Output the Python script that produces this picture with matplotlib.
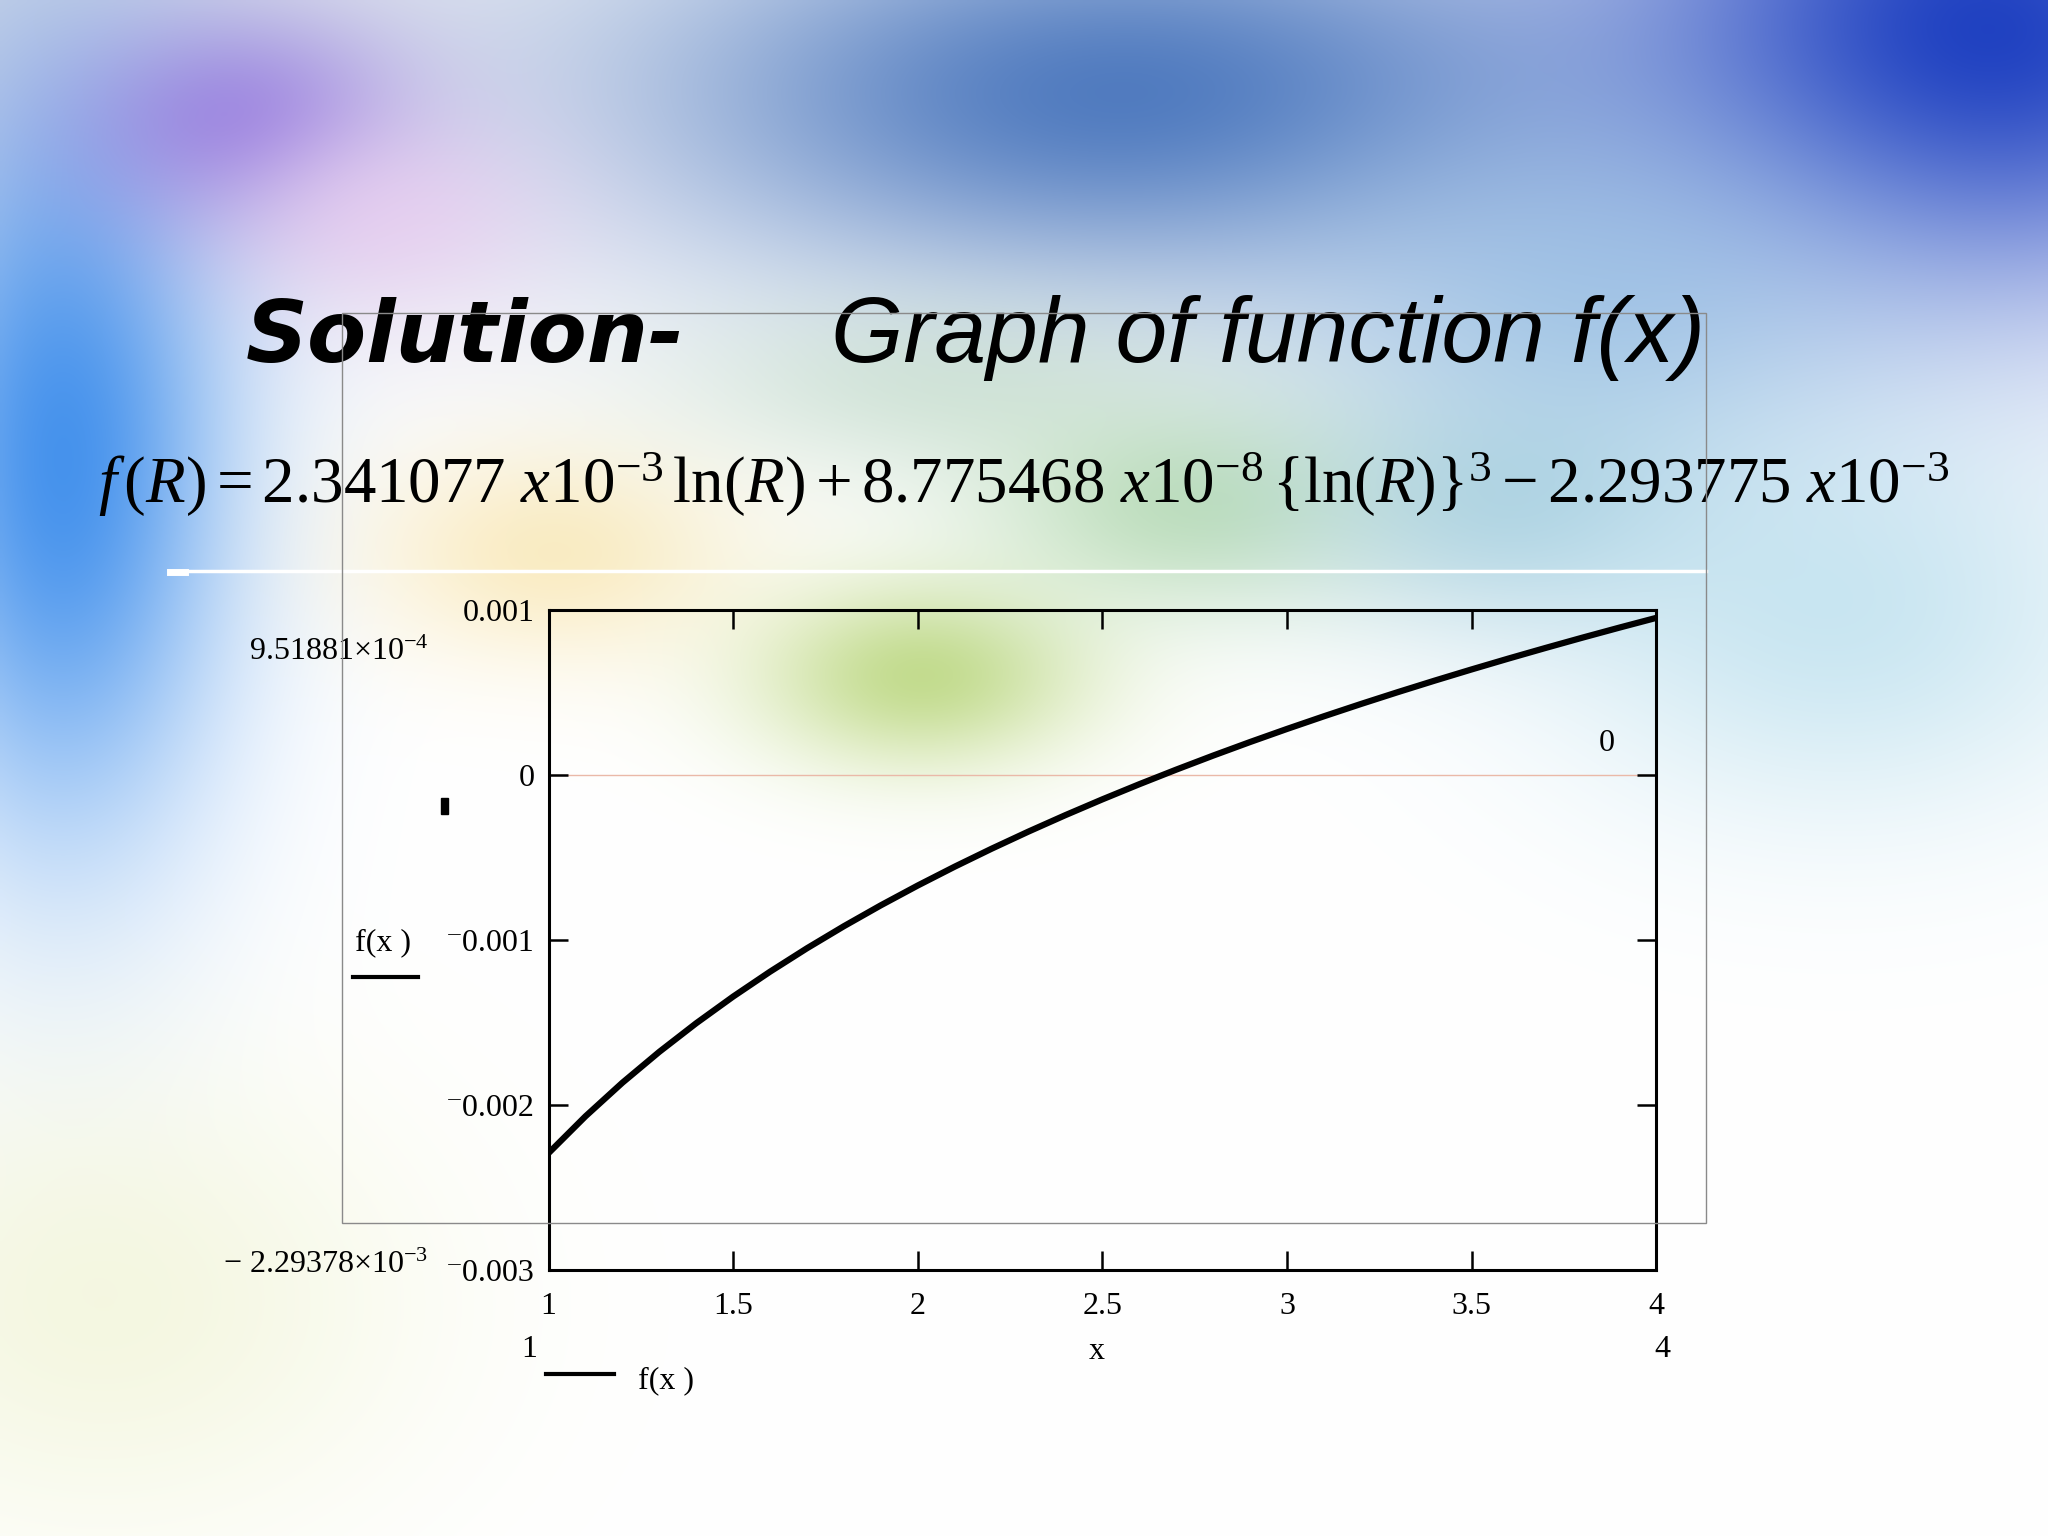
import numpy as np
import matplotlib
matplotlib.use("Agg")
import matplotlib.pyplot as plt
from matplotlib.patches import Rectangle
from matplotlib.lines import Line2D

x_vals = [1.0, 1.1, 1.2, 1.3, 1.4, 1.5, 1.6, 1.7, 1.8, 1.9, 2.0,
          2.1, 2.2, 2.3, 2.4, 2.5, 2.6, 2.7, 2.8, 2.9, 3.0,
          3.1, 3.2, 3.3, 3.4, 3.5, 3.6, 3.7, 3.8, 3.9, 4.0]
f_vals = [-2.2938e-3, -2.0706e-3, -1.8669e-3, -1.6796e-3, -1.5061e-3,
          -1.3445e-3, -1.1935e-3, -1.0515e-3, -0.9177e-3, -0.7911e-3,
          -0.6710e-3, -0.5568e-3, -0.4479e-3, -0.3438e-3, -0.2442e-3,
          -0.1486e-3, -0.0568e-3, 0.0316e-3, 0.1168e-3, 0.1990e-3,
          0.2784e-3, 0.3551e-3, 0.4295e-3, 0.5015e-3, 0.5714e-3,
          0.6393e-3, 0.7053e-3, 0.7694e-3, 0.8319e-3, 0.8927e-3,
          0.9519e-3]

xticks = [1, 1.5, 2, 2.5, 3, 3.5, 4]
xtick_labels = ["1", "1.5", "2", "2.5", "3", "3.5", "4"]
yticks = [0.001, 0, -0.001, -0.002, -0.003]
ytick_labels = ["0.001", "0", "\u207b0.001", "\u207b0.002", "\u207b0.003"]

title_left = "Solution-"
title_right = "Graph of function f(x)"
equation = (r"$f\,(R) = 2.341077\ x10^{-3}\,\ln(R) + 8.775468\ x10^{-8}"
            r"\,\{\ln(R)\}^{3} - 2.293775\ x10^{-3}$")
ymax_label = r"9.51881$\times$10$^{-4}$"
ymin_label = r"$-$ 2.29378$\times$10$^{-3}$"

plt.rcParams['mathtext.fontset'] = 'custom'
plt.rcParams['mathtext.rm'] = 'Liberation Serif'
plt.rcParams['mathtext.it'] = 'Liberation Serif:italic'
plt.rcParams['mathtext.bf'] = 'Liberation Serif:bold'
serif = ['Liberation Serif', 'DejaVu Serif']
fs = 23

W, H = 1568, 1176  # layout measured on the shrunk slide


def fx(x):
    return x / W


def fy(y):
    return 1 - y / H


# slide background, soft colour blobs on white
bw, bh = 512, 384
gx, gy = np.meshgrid(np.linspace(0, 1, bw), np.linspace(0, 1, bh))
img = np.ones((bh, bw, 3))
blobs = [
    (0.0, 0.0, 0.25, 0.2, (205, 210, 225), 0.8),
    (0.55, 0.06, 0.25, 0.13, (50, 100, 180), 0.85),
    (0.97, 0.02, 0.18, 0.17, (20, 55, 190), 0.95),
    (0.78, 0.2, 0.14, 0.12, (140, 185, 225), 0.65),
    (0.03, 0.3, 0.08, 0.24, (50, 135, 235), 0.9),
    (0.12, 0.08, 0.08, 0.07, (140, 110, 220), 0.8),
    (0.19, 0.14, 0.08, 0.07, (235, 205, 240), 0.7),
    (0.27, 0.36, 0.09, 0.07, (248, 228, 170), 0.7),
    (0.45, 0.25, 0.12, 0.06, (185, 215, 190), 0.5),
    (0.45, 0.44, 0.08, 0.06, (170, 205, 95), 0.7),
    (0.58, 0.33, 0.1, 0.07, (145, 200, 140), 0.55),
    (0.74, 0.33, 0.1, 0.08, (145, 195, 215), 0.6),
    (0.9, 0.4, 0.14, 0.13, (175, 218, 235), 0.65),
    (0.05, 0.85, 0.15, 0.15, (238, 242, 205), 0.6),
]
for cx, cy, sx, sy, col, s in blobs:
    w = s * np.exp(-((gx - cx) ** 2 / sx ** 2 + (gy - cy) ** 2 / sy ** 2))
    img = img * (1 - w[..., None]) + np.array(col)[None, None, :] / 255 * w[..., None]

fig = plt.figure(figsize=(20.48, 15.36), dpi=100)
bg = fig.add_axes([0, 0, 1, 1], zorder=-5)
bg.imshow(img, aspect='auto', interpolation='bilinear')
bg.axis('off')

ax = fig.add_axes([fx(420), fy(972), fx(1268) - fx(420), fy(467) - fy(972)])
ax.set_facecolor('none')
ax.axhline(0, color='#eab9a8', lw=1, zorder=0.5)
ax.plot(x_vals, f_vals, color='black', lw=4.5, solid_capstyle='butt')
ax.set_xlim(1, 4)
ax.set_ylim(-0.003, 0.001)
ax.set_xticks(xticks)
ax.set_xticklabels(xtick_labels, family=serif, fontsize=fs)
ax.set_yticks(yticks)
ax.set_yticklabels(ytick_labels, family=serif, fontsize=fs)
ax.tick_params(direction='in', length=14, width=1.8, top=True, right=True,
               pad=10)
ax.tick_params(axis='x', pad=16)
for sp in ax.spines.values():
    sp.set_linewidth(2.2)
ax.text(3.866, 0.00019, "0", family=serif, fontsize=fs, ha='center', va='center')

# titles and equation
fig.text(fx(188), fy(277), title_left, family='DejaVu Sans', weight='bold',
         style='italic', fontsize=62)
fig.text(fx(636), fy(277), title_right, family=['Liberation Sans', 'DejaVu Sans'],
         style='italic', fontsize=67)
fig.text(fx(75), fy(385), equation, fontsize=46.7)

# labels around the plot
fig.text(fx(328), fy(505), ymax_label, family=serif, fontsize=fs, ha='right')
fig.text(fx(328), fy(975), ymin_label, family=serif, fontsize=fs, ha='right')
fig.text(fx(293), fy(722), "f(x )", family=serif, fontsize=fs, ha='center', va='center')
fig.text(fx(405), fy(1033), "1", family=serif, fontsize=fs, ha='center', va='center')
fig.text(fx(1273), fy(1033), "4", family=serif, fontsize=fs, ha='center', va='center')
fig.text(fx(840), fy(1035), "x", family=serif, fontsize=fs, ha='center', va='center')
fig.text(fx(510), fy(1057), "f(x )", family=serif, fontsize=fs, ha='center', va='center')

fig.add_artist(Line2D([fx(270), fx(320)], [fy(748), fy(748)], color='black', lw=3))
fig.add_artist(Line2D([fx(418), fx(470)], [fy(1052), fy(1052)], color='black', lw=3))
fig.add_artist(Rectangle((fx(338), fy(623)), fx(5), fy(0) - fy(12),
                         color='black', transform=fig.transFigure))

# slide decorations
fig.add_artist(Line2D([fx(130), fx(1306)], [fy(437), fy(437)], color='white', lw=2.5))
fig.add_artist(Line2D([fx(130), fx(142)], [fy(438), fy(438)], color='white', lw=5))
fig.add_artist(Rectangle((fx(262), fy(936)), fx(1306) - fx(262), fy(240) - fy(936),
                         fill=False, edgecolor='#8a8a8a', lw=1,
                         transform=fig.transFigure, zorder=5))

fig.savefig("out.png", dpi=100)
